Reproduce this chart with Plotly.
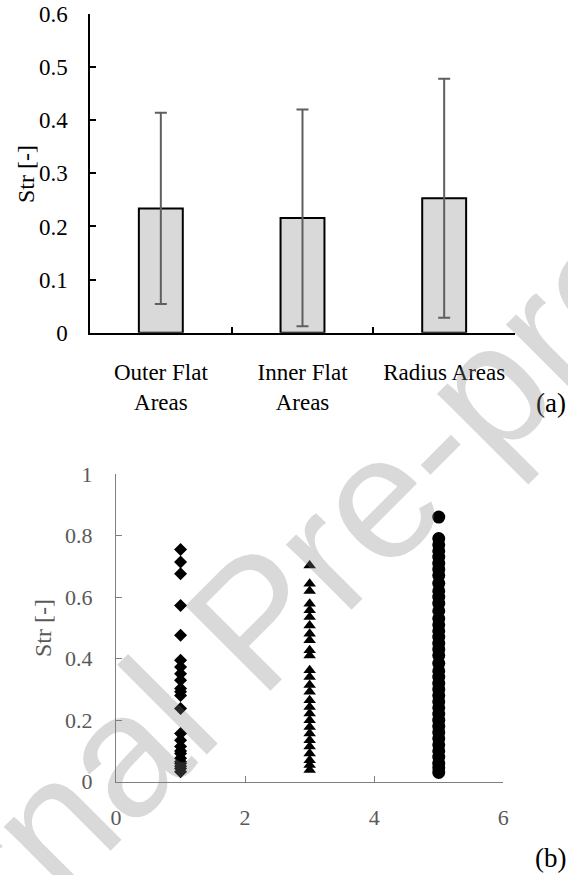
import plotly.graph_objects as go

# ---- data (a) ----
categories = ["Outer Flat<br>Areas", "Inner Flat<br>Areas", "Radius Areas"]
bar_means = [0.234, 0.216, 0.253]
bar_errors = [0.180, 0.204, 0.225]

# ---- data (b) ----
outer_x = 1
outer_str = [0.755, 0.714, 0.676, 0.573, 0.476, 0.395, 0.373, 0.351, 0.330, 0.303,
             0.292, 0.280, 0.238, 0.157, 0.135, 0.114, 0.100, 0.092, 0.076, 0.065,
             0.059, 0.050, 0.043, 0.032]
inner_x = 3
inner_str = [0.703, 0.643, 0.620, 0.578, 0.557, 0.535, 0.508, 0.481, 0.460, 0.427,
             0.410, 0.362, 0.340, 0.314, 0.292, 0.265, 0.243, 0.222, 0.200, 0.178,
             0.157, 0.135, 0.114, 0.092, 0.070, 0.054, 0.038]
radius_x = 5
radius_str = [0.860, 0.790, 0.770, 0.750, 0.730, 0.710, 0.690, 0.670, 0.645, 0.620,
              0.600, 0.580, 0.555, 0.530, 0.510, 0.490, 0.470, 0.450, 0.430, 0.410,
              0.385, 0.360, 0.340, 0.320, 0.300, 0.280, 0.260, 0.240, 0.220, 0.200,
              0.180, 0.160, 0.140, 0.120, 0.100, 0.080, 0.060, 0.045, 0.030]

W, H = 568, 875
def px(x): return x / W
def py(y): return 1 - y / H

SERIF = "Liberation Serif"

fig = go.Figure()

fig.add_trace(go.Bar(
    x=categories, y=bar_means, xaxis="x", yaxis="y",
    marker=dict(color="#d9d9d9", line=dict(color="black", width=2)),
    error_y=dict(type="data", array=bar_errors, visible=True,
                 color="#5f5f5f", thickness=2, width=6),
    showlegend=False,
))

fig.add_trace(go.Scatter(
    x=[outer_x] * len(outer_str), y=outer_str, xaxis="x2", yaxis="y2",
    mode="markers", marker=dict(symbol="diamond", size=10, color="black"),
    showlegend=False,
))
fig.add_trace(go.Scatter(
    x=[inner_x] * len(inner_str), y=inner_str, xaxis="x2", yaxis="y2",
    mode="markers", marker=dict(symbol="triangle-up", size=11, color="black"),
    showlegend=False,
))
fig.add_trace(go.Scatter(
    x=[radius_x] * len(radius_str), y=radius_str, xaxis="x2", yaxis="y2",
    mode="markers", marker=dict(symbol="circle", size=13, color="black"),
    showlegend=False,
))

fig.update_layout(
    width=W, height=H,
    margin=dict(l=0, r=0, t=0, b=0),
    paper_bgcolor="white", plot_bgcolor="white",
    bargap=0.69,
    font=dict(family=SERIF, color="black"),
    xaxis=dict(
        domain=[px(90), px(515)], anchor="y", automargin=False,
        type="category", range=[-0.5, 2.5],
        showline=True, linecolor="black", linewidth=1.5,
        ticks="inside", tickson="boundaries", ticklen=6, tickcolor="black", tickwidth=1.5,
        showgrid=False, zeroline=False,
        tickfont=dict(family=SERIF, size=23, color="black"),
        ticklabelstandoff=18,
    ),
    yaxis=dict(
        domain=[py(332.7), py(14)], anchor="x", automargin=False,
        range=[0, 0.6], tickvals=[0, 0.1, 0.2, 0.3, 0.4, 0.5, 0.6],
        ticktext=["0", "0.1", "0.2", "0.3", "0.4", "0.5", "0.6"],
        showline=True, linecolor="black", linewidth=1.5,
        ticks="inside", ticklen=6, tickcolor="black", tickwidth=1.5,
        showgrid=False, zeroline=False,
        tickfont=dict(family=SERIF, size=23, color="black"),
        ticklabelstandoff=16,
    ),
    xaxis2=dict(
        domain=[px(116), px(503.3)], anchor="y2", automargin=False,
        range=[0, 6], tickvals=[0, 2, 4, 6],
        showline=True, linecolor="#7f7f7f", linewidth=1.2,
        ticks="inside", ticklen=6, tickcolor="#7f7f7f", tickwidth=1.2,
        showgrid=False, zeroline=False,
        tickfont=dict(family=SERIF, size=22, color="#595959"),
        ticklabelstandoff=16,
    ),
    yaxis2=dict(
        domain=[py(781.7), py(474)], anchor="x2", automargin=False,
        range=[0, 1], tickvals=[0, 0.2, 0.4, 0.6, 0.8, 1],
        ticktext=["0", "0.2", "0.4", "0.6", "0.8", "1"],
        showline=True, linecolor="#7f7f7f", linewidth=1.2,
        ticks="inside", ticklen=6, tickcolor="#7f7f7f", tickwidth=1.2,
        showgrid=False, zeroline=False,
        tickfont=dict(family=SERIF, size=22, color="#595959"),
        ticklabelstandoff=18,
    ),
    annotations=[
        dict(text="Str [-]", x=px(26), y=py(174), xref="paper", yref="paper",
             textangle=-90, showarrow=False, xanchor="center", yanchor="middle",
             font=dict(family=SERIF, size=24, color="black")),
        dict(text="Str [-]", x=px(43), y=py(628), xref="paper", yref="paper",
             textangle=-90, showarrow=False, xanchor="center", yanchor="middle",
             font=dict(family=SERIF, size=24, color="#595959")),
        dict(text="(a)", x=1, y=py(403), xref="paper", yref="paper",
             showarrow=False, xanchor="right", yanchor="middle",
             font=dict(family=SERIF, size=27, color="black")),
        dict(text="(b)", x=1, y=py(858), xref="paper", yref="paper",
             showarrow=False, xanchor="right", yanchor="middle",
             font=dict(family=SERIF, size=27, color="black")),
        dict(text="Journal Pre-proof", x=px(255), y=py(620), xref="paper", yref="paper",
             textangle=-45, showarrow=False, xanchor="center", yanchor="middle",
             font=dict(family="Liberation Sans", size=175, color="rgba(128,128,128,0.3)")),
    ],
)

fig.write_html("out.html")
